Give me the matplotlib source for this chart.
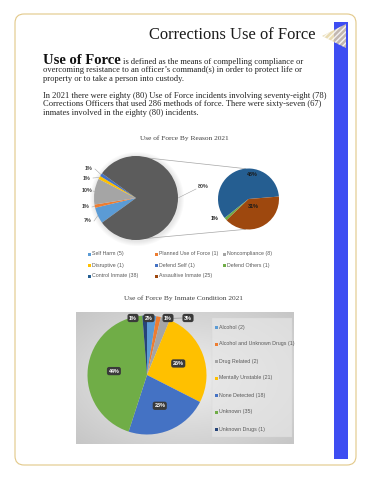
import numpy as np
import matplotlib.pyplot as plt
from matplotlib.patches import Rectangle, FancyBboxPatch, Polygon, Circle
from matplotlib.colors import LinearSegmentedColormap

# ---- data ----
reason_names = ['Self Harm', 'Planned Use of Force', 'Noncompliance', 'Disruptive',
                'Defend Self', 'Defend Others', 'Control Inmate', 'Assaultive Inmate']
reason_counts = [5, 1, 8, 1, 1, 1, 38, 25]
reason_colors = ['#5B9BD5', '#ED7D31', '#A5A5A5', '#FFC000', '#4472C4',
                 '#70AD47', '#255E91', '#9E480E']
main_pct = ['7%', '1%', '10%', '1%', '1%']
other_pct = '80%'
other_color = '#5C5C5C'
sub_pct = ['1%', '48%', '31%']

cond_names = ['Alcohol', 'Alcohol and Unknown Drugs', 'Drug Related', 'Mentally Unstable',
              'None Detected', 'Unknown', 'Unknown Drugs']
cond_counts = [2, 1, 2, 21, 18, 35, 1]
cond_colors = ['#5B9BD5', '#ED7D31', '#A5A5A5', '#FFC000', '#4472C4', '#70AD47', '#264478']
cond_pct = ['2%', '1%', '3%', '26%', '23%', '44%', '1%']

para1 = ['overcoming resistance to an officer\u2019s command(s) in order to protect life or',
         'property or to take a person into custody.']
para2 = ['In 2021 there were eighty (80) Use of Force incidents involving seventy-eight (78)',
         'Corrections Officers that used 286 methods of force. There were sixty-seven (67)',
         'inmates involved in the eighty (80) incidents.']

SERIF = 'Liberation Serif'
SANS = 'Liberation Sans'
H = 480


def Y(y):
    # pixel row -> data y
    return H - y


fig = plt.figure(figsize=(3.7, 4.8), dpi=100)
ax = fig.add_axes([0, 0, 1, 1])

# page frame, blue bar, triangle
ax.add_patch(FancyBboxPatch((15, Y(465)), 341, 451, boxstyle='round,pad=0,rounding_size=9',
                            fc='none', ec='#E2C888', lw=0.8, zorder=1))
ax.add_patch(Rectangle((334, Y(459)), 14, 437, fc='#3D4DF2', ec='none', zorder=2))
ax.add_patch(Polygon([(322, Y(36)), (346, Y(24)), (346, Y(48))], closed=True,
                     fc='#E4D3A0', ec='white', hatch='//////', lw=0, alpha=0.8, zorder=3))

# heading texts
ax.text(316, Y(35), 'Corrections Use of Force', ha='right', va='center',
        fontsize=11.9, family=SERIF, color='#1a1a1a')
ax.text(43, Y(64), 'Use of Force', ha='left', va='baseline', fontsize=10.5,
        family=SERIF, weight='bold', color='#111111')
ax.text(123, Y(64), 'is defined as the means of compelling compliance or', ha='left',
        va='baseline', fontsize=6.1, family=SERIF, color='#222222')
for i, line in enumerate(para1):
    ax.text(43, Y(72.5 + 8.5 * i), line, ha='left', va='baseline', fontsize=6.1,
            family=SERIF, color='#222222')
for i, line in enumerate(para2):
    ax.text(43, Y(98 + 8.3 * i), line, ha='left', va='baseline', fontsize=6.1,
            family=SERIF, color='#222222')

# ---- chart 1 : pie of pie ----
ax.text(184.5, Y(138), 'Use of Force By Reason 2021', ha='center', va='center',
        fontsize=5.3, family=SERIF, color='#404040')

c1 = (136, Y(198))
r1 = 42
c2 = (248.5, Y(199))
r2 = 30.5

for k in range(5):
    ax.add_patch(Circle((c1[0] + 1, c1[1] - 1), r1 + 1 + k, fc='black', alpha=0.02,
                        ec='none', zorder=2))

main_vals = reason_counts[:5] + [sum(reason_counts[5:])]
main_cols = reason_colors[:5] + [other_color]
w_main, _ = ax.pie(main_vals, colors=main_cols, startangle=216, counterclock=False,
                   center=c1, radius=r1, wedgeprops=dict(lw=0))
w_sub, _ = ax.pie(reason_counts[5:], colors=reason_colors[5:], startangle=224,
                  counterclock=False, center=c2, radius=r2, wedgeprops=dict(lw=0))
for w in w_main + w_sub:
    w.set_zorder(4)

# series lines (outer tangents of the two circles)
d = c2[0] - c1[0]
th = np.arcsin((r1 - r2) / d)
for s in (1, -1):
    a = np.pi / 2 + th
    p1 = (c1[0] + r1 * np.cos(a), c1[1] + s * r1 * np.sin(a))
    p2 = (c2[0] + r2 * np.cos(a), c2[1] + s * r2 * np.sin(a))
    ax.plot([p1[0], p2[0]], [p1[1], p2[1]], color='#A6A6A6', lw=0.5, zorder=3)


def mid(w):
    return np.deg2rad((w.theta1 + w.theta2) / 2)


main_label_xy = [(88, 221), (86, 207), (87, 191), (87, 178), (89, 169)]
for w, lab, (lx, ly) in zip(w_main[:5], main_pct, main_label_xy):
    a = mid(w)
    ex, ey = c1[0] + r1 * np.cos(a), c1[1] + r1 * np.sin(a)
    ax.plot([lx + 6, ex], [Y(ly), ey], color='#A6A6A6', lw=0.4, zorder=3)
    ax.text(lx, Y(ly), lab, ha='center', va='center', fontsize=3.9, family=SANS,
            weight='bold', color='#404040', zorder=5)
a = mid(w_main[5])
ax.plot([196, c1[0] + r1 * np.cos(a)], [Y(189), c1[1] + r1 * np.sin(a)],
        color='#A6A6A6', lw=0.4, zorder=3)
ax.text(203, Y(187), other_pct, ha='center', va='center', fontsize=3.9, family=SANS,
        weight='bold', color='#404040', zorder=5)

sub_label_xy = [(215, 219), (252, 174), (253, 207)]
for lab, (lx, ly) in zip(sub_pct, sub_label_xy):
    ax.text(lx, Y(ly), lab, ha='center', va='center', fontsize=3.9, family=SANS,
            weight='bold', color='#1A1A1A', zorder=5)

# legend chart 1
leg1_xy = [(89, 254), (156, 254), (224, 254), (89, 265), (156, 265), (224, 265),
           (89, 276), (156, 276)]
for name, n, col, (lx, ly) in zip(reason_names, reason_counts, reason_colors, leg1_xy):
    ax.add_patch(Rectangle((lx - 1.5, Y(ly) - 1.5), 3, 3, fc=col, ec='none', zorder=5))
    ax.text(lx + 3, Y(ly), f'{name} ({n})', ha='left', va='center', fontsize=3.8,
            family=SANS, color='#595959', zorder=5)

# ---- chart 2 ----
ax.text(183, Y(298), 'Use of Force By Inmate Condition 2021', ha='center', va='center',
        fontsize=5.3, family=SERIF, color='#404040')

gx, gy = np.meshgrid(np.linspace(-1, 1, 220), np.linspace(-1, 1, 140))
grad = np.sqrt(gx ** 2 + gy ** 2) / np.sqrt(2)
bg = LinearSegmentedColormap.from_list('bg', ['#EFEFEF', '#C6C6C6'])
ax.imshow(grad, extent=(76, 294, Y(444), Y(312)), cmap=bg, aspect='auto', zorder=1)
ax.add_patch(Rectangle((212, Y(437)), 80, 119, fc='#E6E6E6', ec='#D4D4D4', lw=0.3,
                       alpha=0.7, zorder=2))

c3 = (147, Y(375))
r3 = 59.5
w_cond, _ = ax.pie(cond_counts, colors=cond_colors, startangle=90, counterclock=False,
                   center=c3, radius=r3, wedgeprops=dict(lw=0))
for w in w_cond:
    w.set_zorder(4)

box = dict(boxstyle='round,pad=0.3,rounding_size=0.4', fc='#3A3A3A', ec='none')
small_label_x = {6: 133, 0: 149, 1: 168, 2: 188}
for i, (w, lab) in enumerate(zip(w_cond, cond_pct)):
    a = mid(w)
    if i in small_label_x:
        lx, ly = small_label_x[i], Y(318)
        if i == 2:
            ax.plot([c3[0] + r3 * np.cos(a), lx - 5], [c3[1] + r3 * np.sin(a), ly],
                    color='#7F7F7F', lw=0.4, zorder=3)
    else:
        lx, ly = c3[0] + 0.56 * r3 * np.cos(a), c3[1] + 0.56 * r3 * np.sin(a)
    ax.text(lx, ly, lab, ha='center', va='center', fontsize=3.9, family=SANS,
            weight='bold', color='white', bbox=box, zorder=6)

for i, (name, n, col) in enumerate(zip(cond_names, cond_counts, cond_colors)):
    ly = Y(327 + 17 * i)
    ax.add_patch(Rectangle((214.5, ly - 1.5), 3, 3, fc=col, ec='none', zorder=5))
    ax.text(219, ly, f'{name} ({n})', ha='left', va='center', fontsize=3.8,
            family=SANS, color='#595959', zorder=5)

ax.set_xlim(0, 370)
ax.set_ylim(0, 480)
ax.set_axis_off()
fig.savefig('out.png', dpi=100)
